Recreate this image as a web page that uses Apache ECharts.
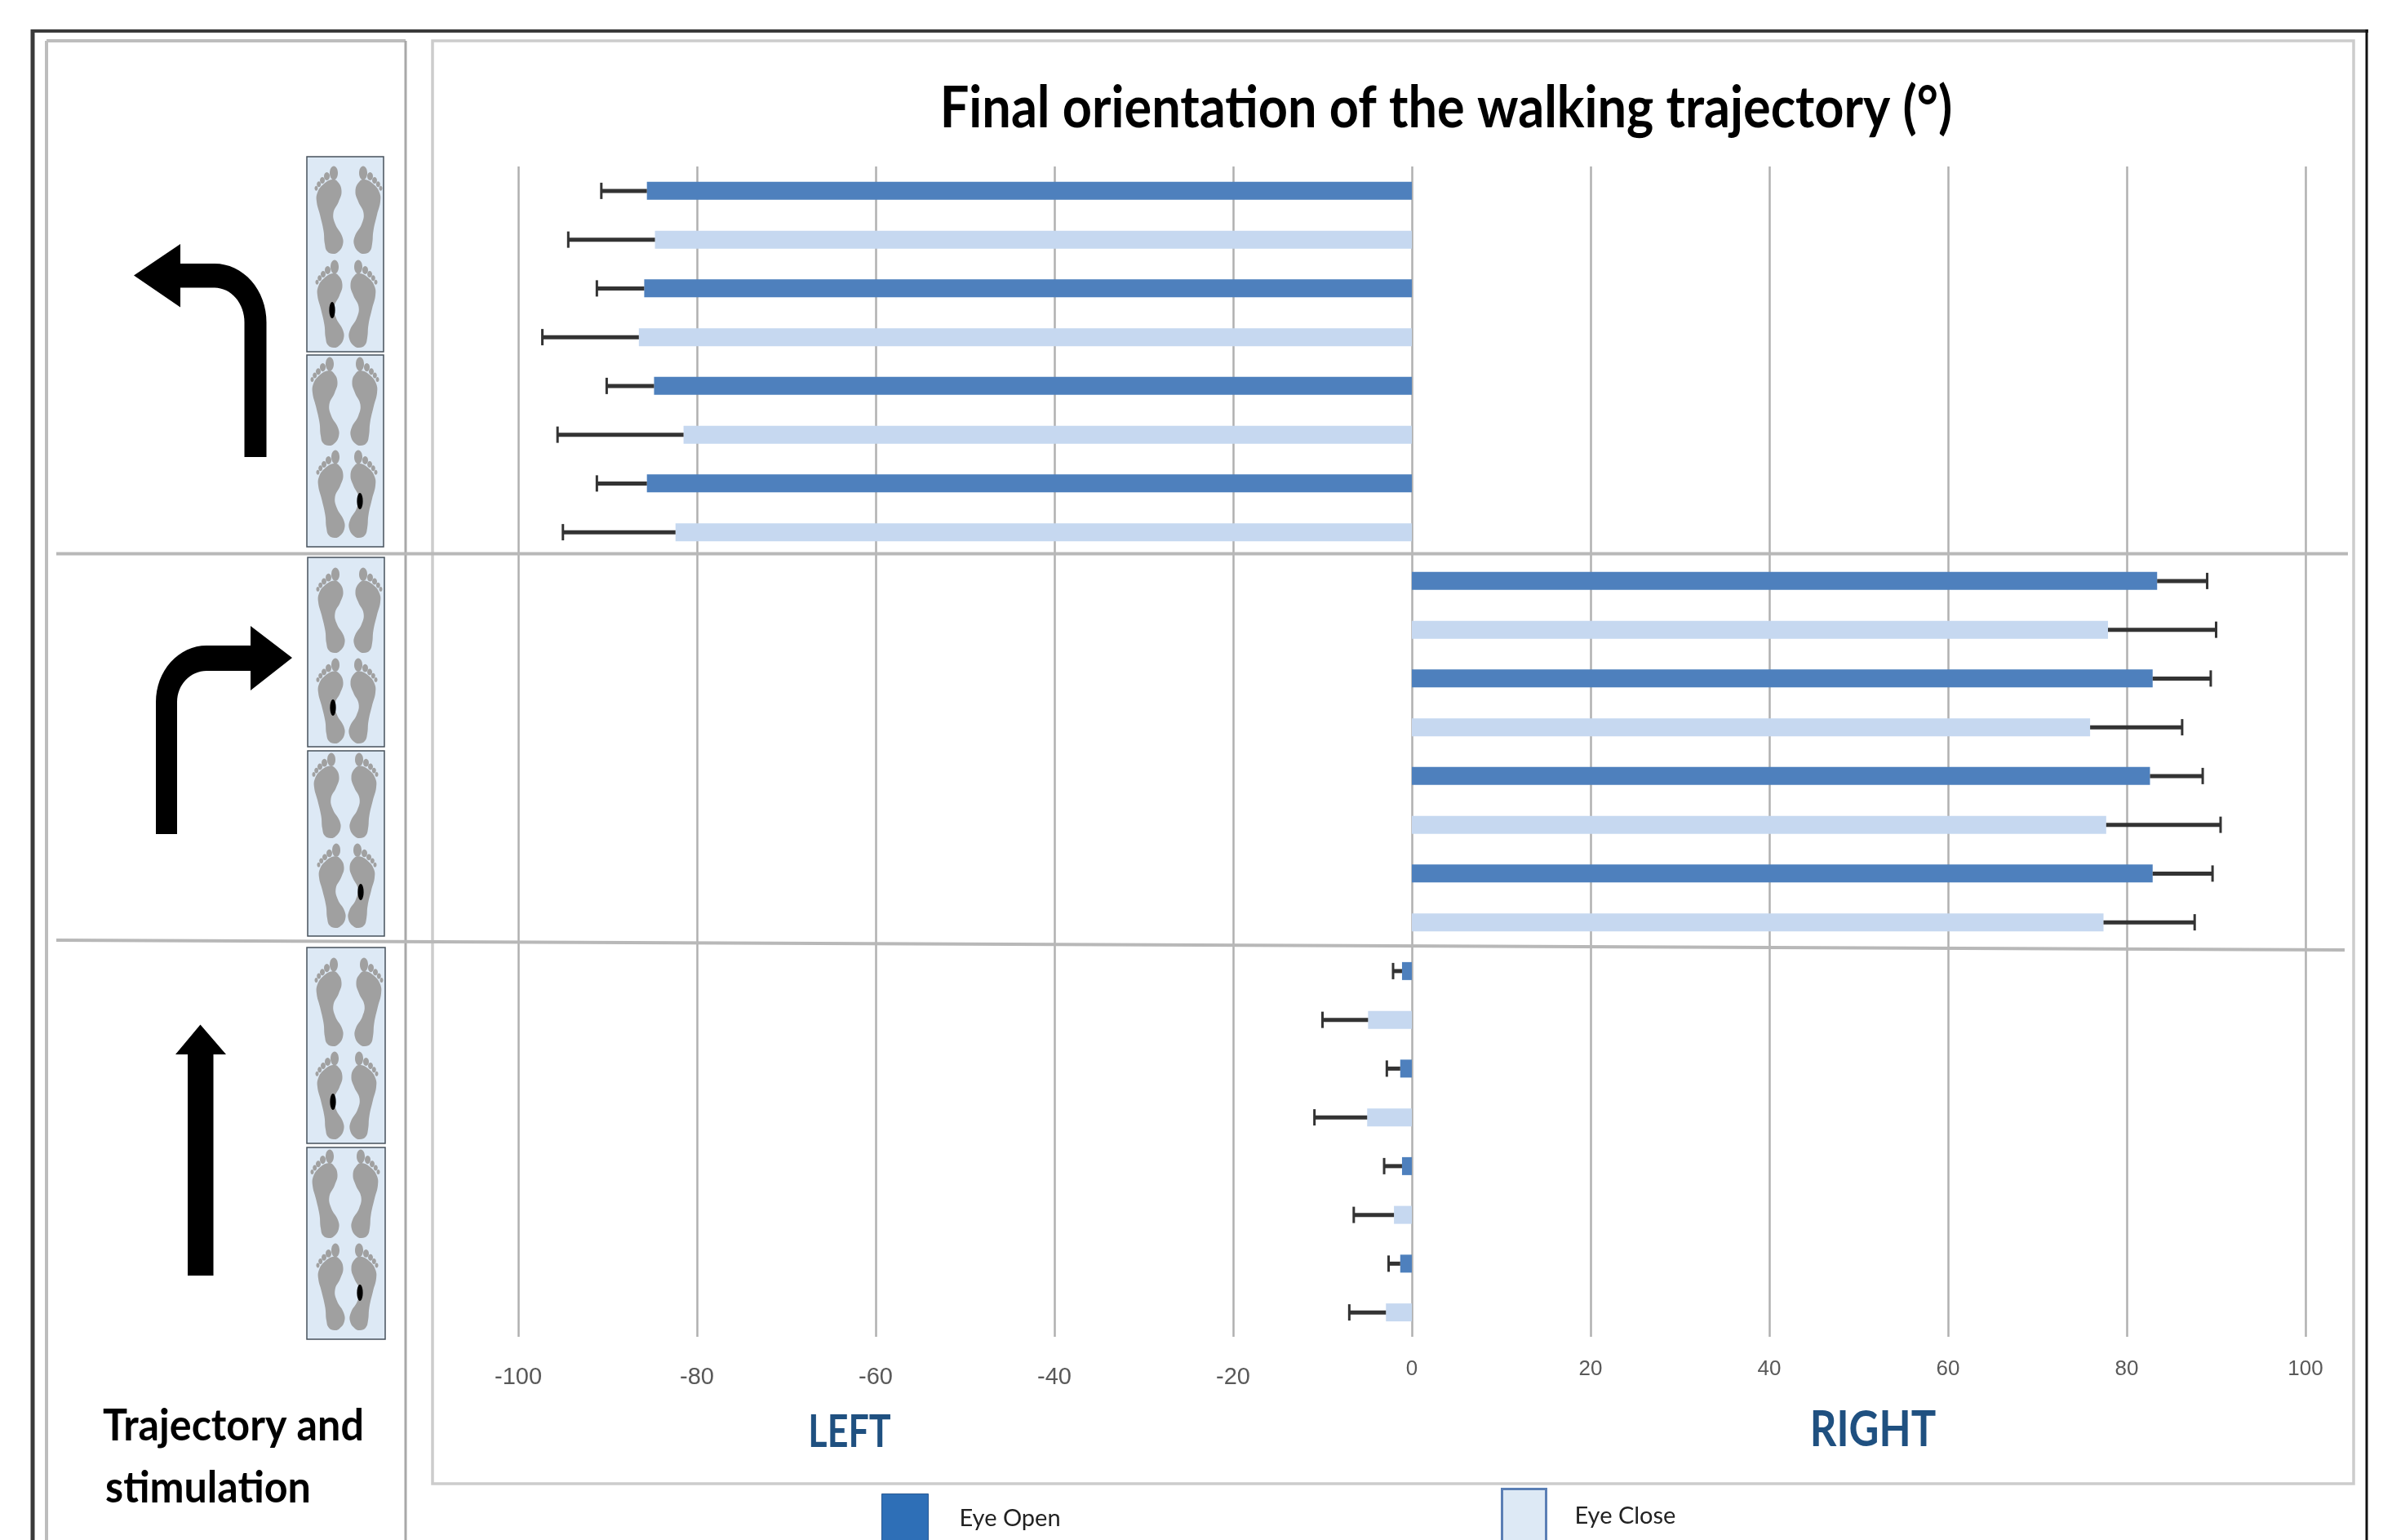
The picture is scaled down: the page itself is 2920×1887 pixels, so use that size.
<!DOCTYPE html>
<html>
<head>
<meta charset="utf-8">
<title>Final orientation of the walking trajectory</title>
<script src="https://cdn.jsdelivr.net/npm/echarts@6/dist/echarts.min.js"></script>
<style>
    html, body { margin: 0; padding: 0; background: #fff; }
    #main { width: 2920px; height: 1887px; }
</style>
</head>
<body>
<div id="main"></div>
<script>
// one row per foot panel line: turn direction + stimulation site
var categories = [
    'Left turn A plain', 'Left turn A left foot', 'Left turn B plain', 'Left turn B right foot',
    'Right turn A plain', 'Right turn A left foot', 'Right turn B plain', 'Right turn B right foot',
    'Straight A plain', 'Straight A left foot', 'Straight B plain', 'Straight B right foot'
];
var eyeOpenMean = [-85.6, -85.9, -84.8, -85.6, 83.4, 82.9, 82.6, 82.9, -1.1, -1.3, -1.1, -1.3];
var eyeCloseMean = [-84.7, -86.5, -81.5, -82.4, 77.9, 75.9, 77.7, 77.4, -4.9, -5.0, -2.0, -2.9];
// where the whisker ends, same unit as the means
var eyeOpenWhisker = [-90.7, -91.2, -90.1, -91.2, 89.0, 89.4, 88.5, 89.6, -2.1, -2.8, -3.1, -2.6];
var eyeCloseWhisker = [-94.4, -97.3, -95.6, -95.0, 90.0, 86.2, 90.5, 87.6, -10.0, -10.9, -6.5, -7.0];

var titleText = 'Final orientation of the walking trajectory (°)';
var sideText = 'Trajectory and';
var sideText2 = 'stimulation';

function line(x1, y1, x2, y2, color, width, z) {
    return {
        type: 'line', z: z || 1,
        shape: {x1: x1, y1: y1, x2: x2, y2: y2},
        style: {stroke: color, lineWidth: width}
    };
}

function label(text, x, y, font, color, scaleX) {
    return {
        type: 'text', x: x, y: y, scaleX: scaleX, z: 5,
        style: {text: text, font: font, fill: color, textAlign: 'center', textVerticalAlign: 'middle'}
    };
}

// foot drawn once, big toe on the inner side
var soleShape = [[22, 17], [29, 20], [33.5, 31], [30, 44], [23.5, 58], [26, 72], [34, 86], [35, 97], [29, 106], [23, 108],
    [16, 105], [13, 96], [11.5, 80], [7, 60], [3, 44], [4, 33], [11, 23]];
var toes = [[24, 9, 5, 8.5], [15.5, 13, 3.5, 5], [10, 18, 3, 4], [5.7, 22.7, 2.5, 3.5], [2.5, 27.7, 2, 3]];

function foot(x, top, bottom, mirrored) {
    // z does not come down from the group, every child needs its own
    var kids = [{type: 'polygon', z: 4, shape: {points: soleShape, smooth: 0.45}, style: {fill: '#a0a0a0'}}];
    toes.forEach(function (t) {
        kids.push({type: 'ellipse', z: 4, shape: {cx: t[0], cy: t[1], rx: t[2], ry: t[3]}, style: {fill: '#a0a0a0'}});
    });
    return {type: 'group', x: x, y: top, scaleX: mirrored ? -1 : 1, scaleY: (bottom - top) / 108, children: kids};
}

// x0,x1,y0,y1 panel, then left foot x,top,bottom and right foot edge x for both rows, then the black spot
var footPanels = [
    [376, 470, 192, 431, 385, 203, 311, 469, 386, 318, 426, 463, 407, 380],
    [376, 470, 435, 670, 380, 437, 546, 465, 387, 551, 659, 463, 441, 614],
    [377, 471, 683, 915, 387, 695, 800, 469, 387, 806, 911, 463, 408, 867],
    [377, 471, 920, 1147, 382, 922, 1027, 464, 388, 1033, 1137, 462, 442, 1093],
    [376, 472, 1161, 1401, 385, 1173, 1282, 470, 386, 1288, 1396, 464, 408, 1350],
    [376, 472, 1406, 1641, 380, 1408, 1517, 466, 387, 1523, 1630, 464, 441, 1584]
];

function panelGraphics(p) {
    return [
        {type: 'rect', z: 3, shape: {x: p[0], y: p[2], width: p[1] - p[0], height: p[3] - p[2]},
            style: {fill: '#dde9f5', stroke: '#47525c', lineWidth: 1.5}},
        foot(p[4], p[5], p[6], false),
        foot(p[7], p[5], p[6], true),
        foot(p[8], p[9], p[10], false),
        foot(p[11], p[9], p[10], true),
        {type: 'ellipse', z: 6, shape: {cx: p[12], cy: p[13], rx: 3.6, ry: 10}, style: {fill: '#000'}}
    ];
}

function arcPoints(cx, cy, rx, ry, from, to) {
    var pts = [];
    for (var i = 0; i <= 16; i++) {
        var a = (from + (to - from) * i / 16) * Math.PI / 180;
        pts.push([cx + rx * Math.cos(a), cy - ry * Math.sin(a)]);
    }
    return pts;
}

var leftArrow = [[164, 337.5], [221, 299], [221, 323]]
    .concat(arcPoints(263, 395, 63.5, 72, 90, 0))
    .concat([[326.5, 560], [299.5, 560]])
    .concat(arcPoints(263, 395, 36.5, 42.4, 0, 90))
    .concat([[221, 352.6], [221, 376.5]]);

var rightArrow = [[358, 806], [307, 767], [307, 791]]
    .concat(arcPoints(253, 860, 62, 69, 90, 180))
    .concat([[191, 1022], [217, 1022]])
    .concat(arcPoints(253, 860, 36, 38, 180, 90))
    .concat([[307, 822], [307, 846]]);

var upArrow = [[245.5, 1255.6], [277, 1292], [261.5, 1292], [261.5, 1563], [230, 1563], [230, 1292], [215, 1292]];

var decoration = [
    // outer frame and the two inner boxes
    line(38, 38, 2902, 38, '#3a3a3a', 4),
    line(40, 36, 40, 1887, '#3a3a3a', 5),
    line(2900, 36, 2900, 1887, '#111', 3),
    line(57, 50, 497, 50, '#bdbdbd', 4),
    line(57, 50, 57, 1887, '#bdbdbd', 4),
    line(497, 50, 497, 1887, '#a8a8a8', 3),
    {type: 'rect', z: 1, shape: {x: 530, y: 50, width: 2354, height: 1768}, style: {fill: 'none', stroke: '#cccccc', lineWidth: 3.5}},
    // separators between the three trajectories
    line(69, 678.5, 2877, 678.5, '#b8b8b8', 4, 3),
    line(69, 1152, 2873, 1164, '#b8b8b8', 4, 3),
    {type: 'polygon', z: 4, shape: {points: leftArrow}, style: {fill: '#000'}},
    {type: 'polygon', z: 4, shape: {points: rightArrow}, style: {fill: '#000'}},
    {type: 'polygon', z: 4, shape: {points: upArrow}, style: {fill: '#000'}},
    label(titleText, 1772, 133, 'bold 70px Lato', '#000', 0.9),
    label('LEFT', 1041, 1755, 'bold 56px Lato', '#1f5080', 0.8),
    label('RIGHT', 2295, 1752, 'bold 62px Lato', '#1f5080', 0.82),
    label(sideText, 286, 1748, 'bold 54px Lato', '#000', 0.93),
    label(sideText2, 255, 1824, 'bold 54px Lato', '#000', 0.93)
];
footPanels.forEach(function (p) {
    decoration = decoration.concat(panelGraphics(p));
});

// whisker from the bar end, with a cap; side is -1 for the upper bar of a band, 1 for the lower
function whiskerItem(side) {
    return function (params, api) {
        var band = api.size([0, 1])[1];
        var from = api.coord([api.value(1), api.value(0)]);
        var to = api.coord([api.value(2), api.value(0)]);
        var y = from[1] + side * band / 4;
        return {
            type: 'group',
            children: [
                {type: 'line', shape: {x1: from[0], y1: y, x2: to[0], y2: y}, style: {stroke: '#333', lineWidth: 5}},
                {type: 'line', shape: {x1: to[0], y1: y - 10, x2: to[0], y2: y + 10}, style: {stroke: '#333', lineWidth: 3}}
            ]
        };
    };
}

function whiskerData(means, ends) {
    return categories.map(function (c, i) {
        return [i, means[i], ends[i]];
    });
}

var myChart = echarts.init(document.getElementById('main'));
var option = {
    backgroundColor: '#fff',
    animation: false,
    grid: {left: 635, top: 204, width: 2190, height: 1434, containLabel: false},
    legend: [
        {
            left: 1075, top: 1825, itemWidth: 57, itemHeight: 60, selectedMode: false,
            textStyle: {fontFamily: 'Lato', fontSize: 29, color: '#222', padding: [0, 0, 31, 33]},
            data: [{name: 'Eye Open', icon: 'rect', itemStyle: {color: '#2e6fb7', borderColor: '#2a5a94', borderWidth: 1}}]
        },
        {
            left: 1834, top: 1818, itemWidth: 54, itemHeight: 66, selectedMode: false,
            textStyle: {fontFamily: 'Lato', fontSize: 29, color: '#222', padding: [0, 0, 9, 30]},
            data: [{name: 'Eye Close', icon: 'rect', itemStyle: {color: '#dde9f5', borderColor: '#5b7fb5', borderWidth: 3}}]
        }
    ],
    xAxis: {
        type: 'value', min: -100, max: 100, interval: 20,
        axisLine: {show: false},
        axisTick: {show: false},
        splitLine: {lineStyle: {color: '#b0b0b0', width: 2.5}},
        axisLabel: {
            margin: 27,
            verticalAlign: 'top',
            formatter: function (v) {
                return (v < 0 ? '{neg|' : '{pos|') + v + '}';
            },
            rich: {
                neg: {fontFamily: 'Liberation Sans', fontSize: 29, color: '#595959', padding: [8, 0, 0, 0]},
                pos: {fontFamily: 'Liberation Sans', fontSize: 26, color: '#595959'}
            }
        }
    },
    yAxis: {
        type: 'category', inverse: true, data: categories,
        axisLine: {show: false}, axisTick: {show: false}, axisLabel: {show: false}
    },
    series: [
        {
            name: 'Eye Open', type: 'bar', data: eyeOpenMean, barWidth: 22, barGap: '171.6%',
            itemStyle: {color: '#4e80bd'}
        },
        {
            name: 'Eye Close', type: 'bar', data: eyeCloseMean, barWidth: 22,
            itemStyle: {color: '#c6d8f0'}
        },
        {
            name: 'Eye Open whisker', type: 'custom', renderItem: whiskerItem(-1), z: 3,
            encode: {x: [1, 2], y: 0}, data: whiskerData(eyeOpenMean, eyeOpenWhisker)
        },
        {
            name: 'Eye Close whisker', type: 'custom', renderItem: whiskerItem(1), z: 3,
            encode: {x: [1, 2], y: 0}, data: whiskerData(eyeCloseMean, eyeCloseWhisker)
        }
    ],
    graphic: {elements: decoration}
};
myChart.setOption(option);
</script>
</body>
</html>
